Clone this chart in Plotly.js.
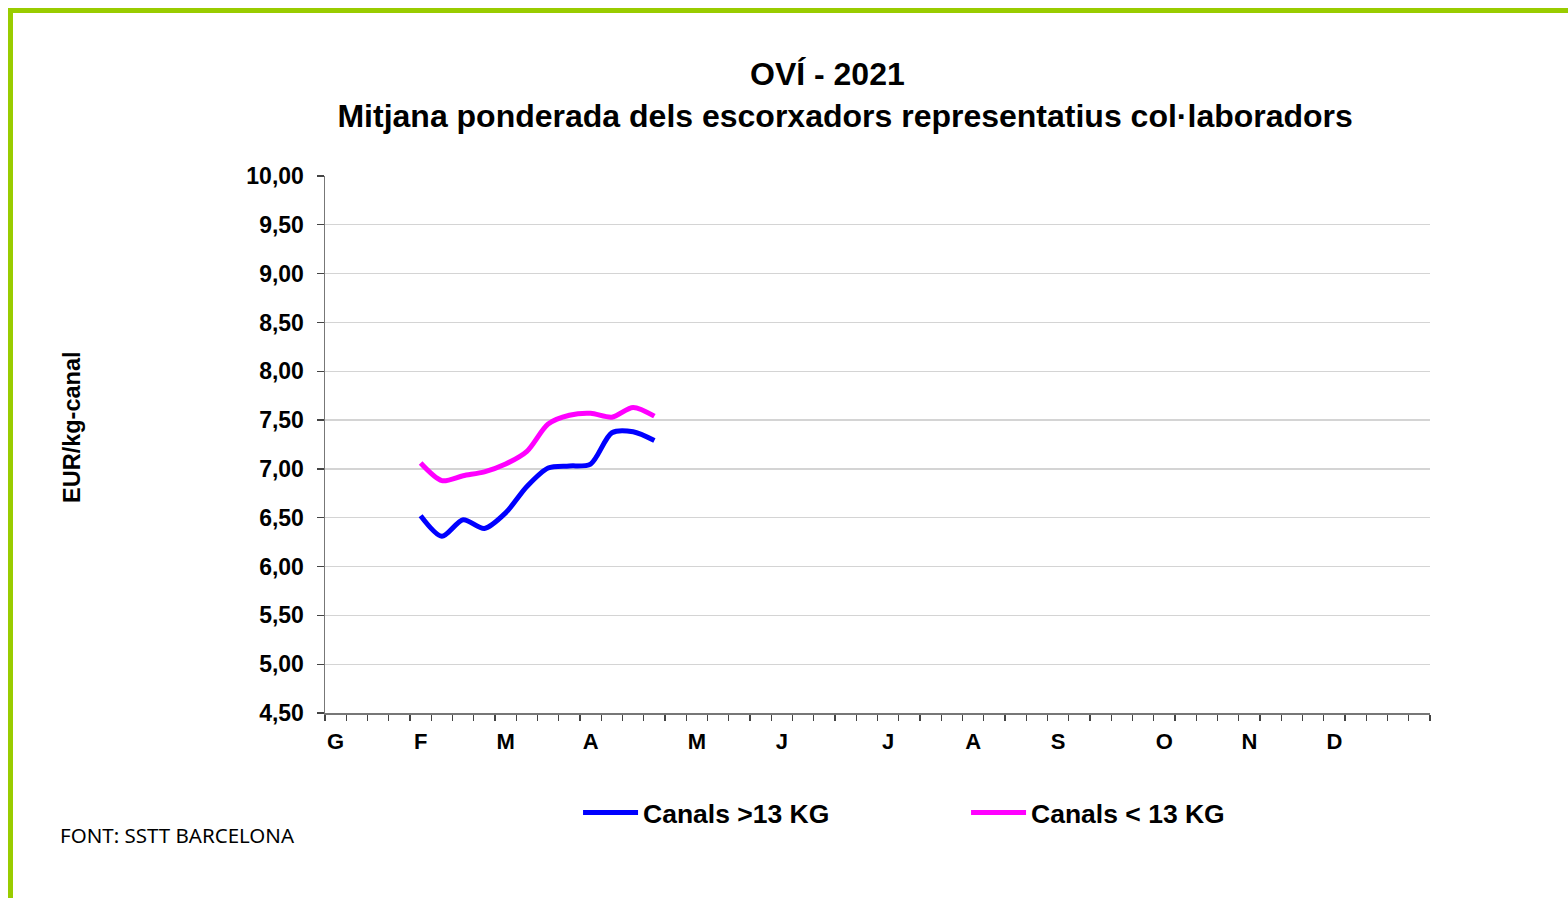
<!DOCTYPE html>
<html>
<head>
<meta charset="utf-8">
<script src="https://cdn.plot.ly/plotly-3.0.1.min.js"></script>
<style>
  html, body { margin: 0; padding: 0; background: #fff; }
  #frame {
    position: absolute; left: 8px; top: 8px; width: 1560px; height: 890px;
    border-top: 5px solid #99cc00; border-left: 5px solid #99cc00;
  }
  #chart { position: absolute; left: 0; top: 0; width: 1568px; height: 898px; }
</style>
</head>
<body>
<div id="frame"></div>
<div id="chart"></div>
<script>
// weeks of 2021 (0-based week index), one value per week
const weeks = [4, 5, 6, 7, 8, 9, 10, 11, 12, 13, 14, 15];
const canalsOver13 = [6.52, 6.31, 6.48, 6.39, 6.55, 6.82, 7.01, 7.03, 7.05, 7.37, 7.38, 7.29];
const canalsUnder13 = [7.06, 6.88, 6.93, 6.97, 7.05, 7.18, 7.46, 7.55, 7.57, 7.53, 7.63, 7.54];

// month labels and the week each month starts in
const months = ['G', 'F', 'M', 'A', 'M', 'J', 'J', 'A', 'S', 'O', 'N', 'D'];
const monthStartWeek = [0, 4, 8, 12, 17, 21, 26, 30, 34, 39, 43, 47];

const yTicks = [4.5, 5, 5.5, 6, 6.5, 7, 7.5, 8, 8.5, 9, 9.5, 10];
const yTickText = yTicks.map(v => v.toFixed(2).replace('.', ','));

const boldFont = 'Liberation Sans, Arial, sans-serif';

const weekBounds = Array.from({ length: 53 }, (_, i) => i);

const traceBlue = {
  x: weeks.map(w => w + 0.5),
  y: canalsOver13,
  type: 'scatter',
  mode: 'lines',
  name: 'Canals >13 KG',
  line: { color: '#0000ff', width: 5, shape: 'spline', smoothing: 0.8 },
  hoverinfo: 'y'
};

const traceMagenta = {
  x: weeks.map(w => w + 0.5),
  y: canalsUnder13,
  type: 'scatter',
  mode: 'lines',
  name: 'Canals < 13 KG',
  line: { color: '#ff00ff', width: 5, shape: 'spline', smoothing: 0.8 },
  hoverinfo: 'y'
};

const layout = {
  width: 1568,
  height: 898,
  paper_bgcolor: 'rgba(0,0,0,0)',
  plot_bgcolor: 'rgba(0,0,0,0)',
  margin: { l: 325, r: 138, t: 176, b: 185 },
  showlegend: true,
  title: {
    // trailing spaces nudge the first line a little left, as in the original
    text: 'OVÍ - 2021&nbsp;&nbsp;&nbsp;&nbsp;<br>Mitjana ponderada dels escorxadors representatius col·laboradors',
    font: { family: boldFont, size: 32, color: '#000', weight: 'bold' },
    x: 0.539, xanchor: 'center', xref: 'container',
    y: 0.905, yanchor: 'top', yref: 'container'
  },
  xaxis: {
    range: [0, 52],
    tickmode: 'array',
    tickvals: weekBounds,
    ticktext: weekBounds.map(() => ''),
    ticks: 'outside', ticklen: 6, tickwidth: 1.3, tickcolor: '#444',
    showline: true, linecolor: '#777', linewidth: 1.5,
    showgrid: false, zeroline: false, fixedrange: true
  },
  xaxis2: {
    overlaying: 'x',
    range: [0, 52],
    tickmode: 'array',
    tickvals: monthStartWeek.map(w => w + 0.5),
    ticktext: months,
    ticks: '', showline: false, showgrid: false, zeroline: false,
    side: 'bottom', anchor: 'y',
    tickfont: { family: boldFont, size: 22, color: '#000', weight: 'bold' },
    ticklabelstandoff: 13
  },
  yaxis: {
    range: [4.5, 10],
    tickmode: 'array',
    tickvals: yTicks,
    ticktext: yTickText,
    ticks: 'outside', ticklen: 7, tickwidth: 1.3, tickcolor: '#444',
    showline: true, linecolor: '#777', linewidth: 1.5,
    showgrid: false, zeroline: false, fixedrange: true,
    tickfont: { family: boldFont, size: 23, color: '#000', weight: 'bold' },
    ticklabelstandoff: 8
  },
  yaxis2: {
    overlaying: 'y',
    range: [4.5, 10],
    tickmode: 'array',
    tickvals: yTicks.slice(1, -1),
    showticklabels: false, ticks: '',
    showgrid: true, gridcolor: '#d4d4d4', gridwidth: 1.2,
    showline: false, zeroline: false
  },
  legend: {
    orientation: 'h',
    x: 0.229, xanchor: 'left',
    y: -0.141, yanchor: 'top',
    font: { family: boldFont, size: 26.5, color: '#000', weight: 'bold' },
    itemwidth: 55,
    entrywidth: 318, entrywidthmode: 'pixels'
  },
  annotations: [{
    text: 'EUR/kg-canal',
    xref: 'paper', yref: 'paper',
    x: -0.229, y: 0.5326, xanchor: 'center', yanchor: 'middle',
    textangle: -90, showarrow: false,
    font: { family: boldFont, size: 23.5, color: '#000', weight: 'bold' }
  }, {
    text: 'FONT: SSTT BARCELONA',
    xref: 'paper', yref: 'paper',
    x: -0.242, y: -0.228, xanchor: 'left', yanchor: 'middle',
    showarrow: false,
    font: { family: 'Noto Sans, sans-serif', size: 20.5, color: '#000' }
  }]
};

// invisible point so xaxis2 / yaxis2 get drawn
const axisHolder = {
  x: [0], y: [4.5], xaxis: 'x2', yaxis: 'y2',
  type: 'scatter', mode: 'markers', marker: { opacity: 0 },
  showlegend: false, hoverinfo: 'skip'
};

Plotly.newPlot('chart', [axisHolder, traceBlue, traceMagenta], layout, { displayModeBar: false, staticPlot: true });
</script>
</body>
</html>
